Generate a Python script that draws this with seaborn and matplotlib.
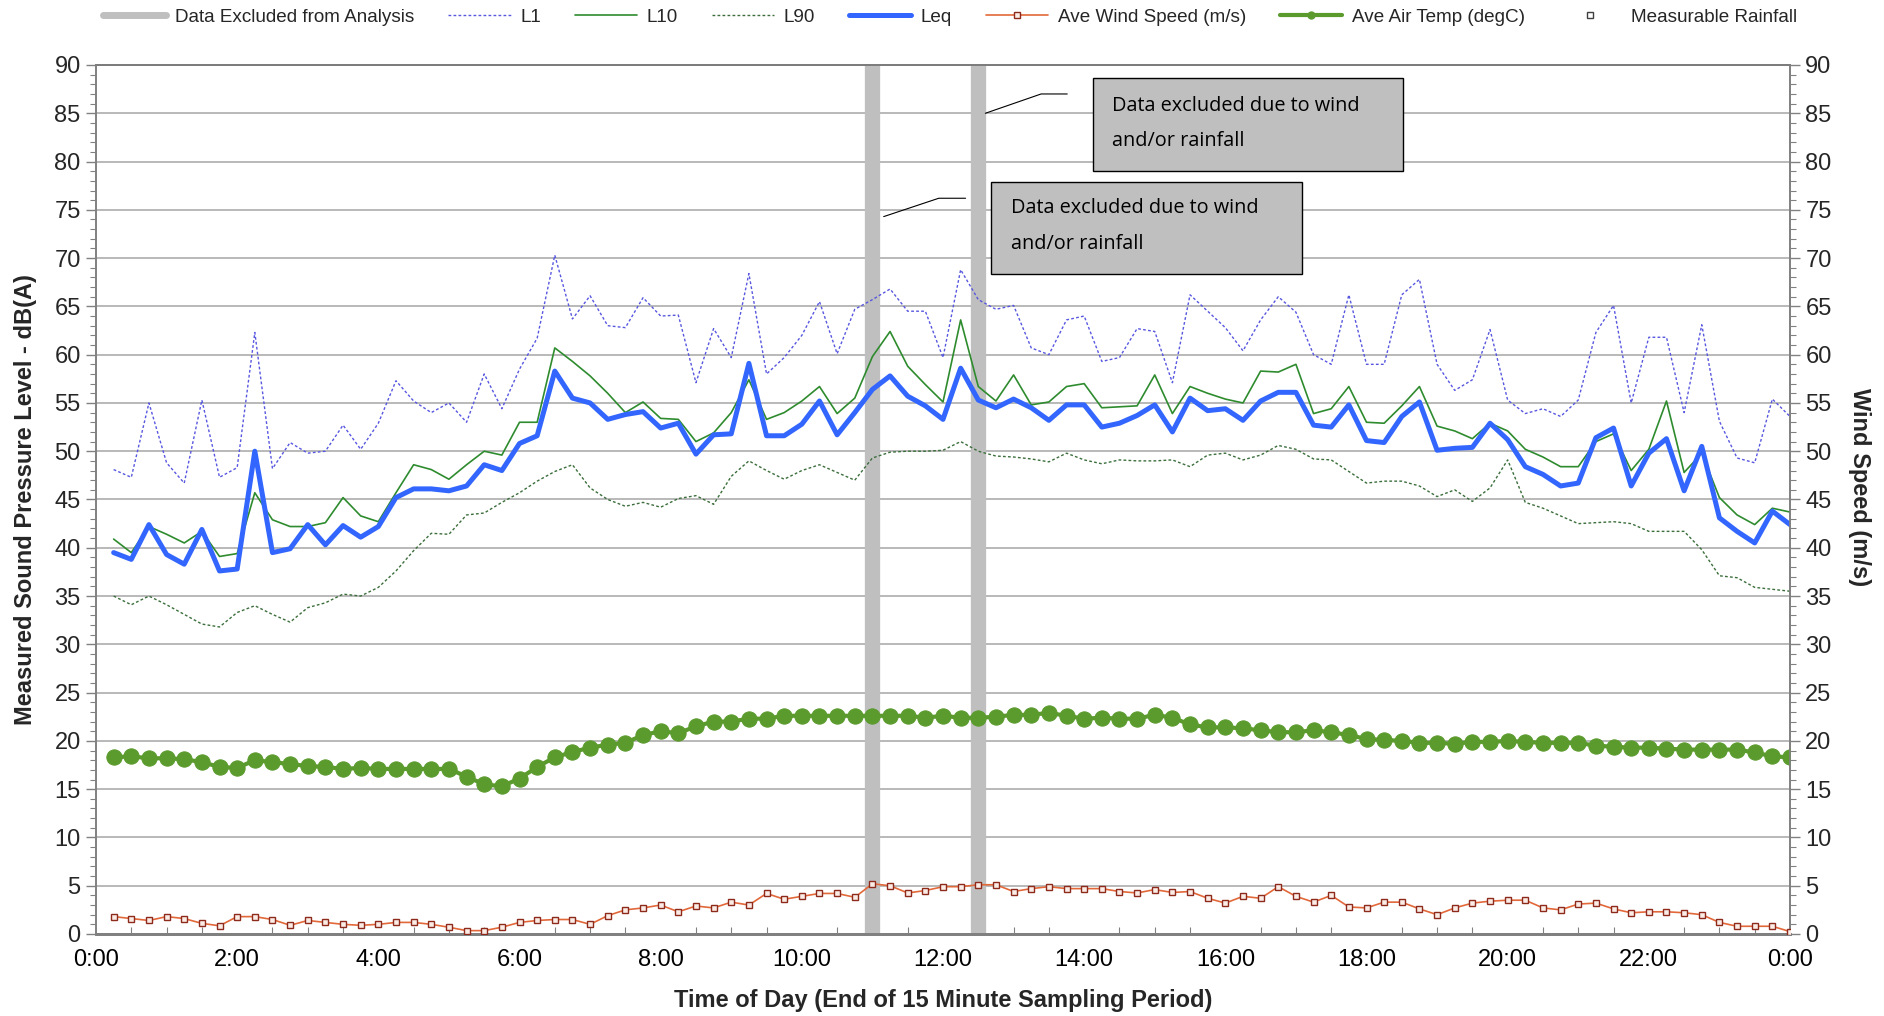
import numpy as np
import pandas as pd
import matplotlib
matplotlib.use("Agg")
import matplotlib.pyplot as plt
import seaborn as sns
from matplotlib.lines import Line2D
from matplotlib.patches import Rectangle
from matplotlib.ticker import MultipleLocator

# ---------------- data ----------------
hours = np.arange(1, 97) * 0.25  # end of each 15-min sampling period (0:15 ... 24:00)

l1 = [48.1, 47.3, 55.0, 48.8, 46.7, 55.3, 47.3, 48.3, 62.3, 48.2, 50.9, 49.8,
      50.0, 52.7, 50.2, 52.9, 57.3, 55.2, 54.0, 55.0, 53.0, 58.0, 54.4, 58.5,
      61.7, 70.3, 63.7, 66.1, 63.0, 62.8, 65.9, 64.0, 64.1, 57.1, 62.7, 59.7,
      68.4, 58.0, 59.7, 62.0, 65.5, 60.1, 64.7, 65.7, 66.8, 64.5, 64.5, 59.7,
      68.8, 65.7, 64.7, 65.1, 60.7, 60.0, 63.6, 64.0, 59.3, 59.7, 62.7, 62.4,
      57.1, 66.2, 64.5, 62.8, 60.4, 63.6, 66.0, 64.4, 60.0, 59.0, 66.2, 59.0,
      59.0, 66.2, 67.8, 59.0, 56.3, 57.4, 62.6, 55.3, 53.9, 54.4, 53.6, 55.3,
      62.3, 65.1, 55.0, 61.8, 61.8, 54.0, 63.1, 53.1, 49.3, 48.8, 55.4, 53.6]

l10 = [40.9, 39.5, 42.2, 41.4, 40.5, 41.7, 39.1, 39.4, 45.7, 42.9, 42.2, 42.2,
       42.6, 45.2, 43.3, 42.7, 45.7, 48.6, 48.1, 47.1, 48.6, 50.0, 49.6, 53.0,
       53.0, 60.7, 59.3, 57.8, 56.0, 54.0, 55.1, 53.4, 53.3, 51.0, 51.9, 54.0,
       57.4, 53.3, 54.0, 55.2, 56.7, 53.9, 55.5, 59.8, 62.4, 58.8, 56.9, 55.1,
       63.6, 56.7, 55.2, 57.9, 54.8, 55.1, 56.7, 57.0, 54.5, 54.6, 54.7, 57.9,
       53.9, 56.7, 56.0, 55.4, 55.0, 58.3, 58.2, 59.0, 53.9, 54.4, 56.7, 53.0,
       52.9, 54.7, 56.7, 52.6, 52.1, 51.3, 52.9, 52.1, 50.2, 49.4, 48.4, 48.4,
       51.0, 51.8, 48.0, 50.2, 55.2, 47.8, 49.8, 45.2, 43.4, 42.4, 44.1, 43.7]

l90 = [35.0, 34.1, 35.0, 34.1, 33.1, 32.1, 31.8, 33.3, 34.0, 33.1, 32.3, 33.8,
       34.3, 35.2, 35.0, 35.9, 37.6, 39.7, 41.5, 41.4, 43.4, 43.6, 44.7, 45.7,
       46.9, 47.9, 48.6, 46.2, 45.0, 44.3, 44.7, 44.2, 45.1, 45.4, 44.5, 47.4,
       49.0, 48.0, 47.1, 48.0, 48.6, 47.8, 47.0, 49.3, 49.9, 50.0, 50.0, 50.1,
       51.0, 50.0, 49.5, 49.4, 49.2, 48.9, 49.8, 49.1, 48.7, 49.1, 49.0, 49.0,
       49.1, 48.4, 49.6, 49.8, 49.1, 49.6, 50.6, 50.2, 49.2, 49.1, 47.9, 46.7,
       46.9, 46.9, 46.4, 45.3, 46.0, 44.8, 46.2, 49.1, 44.7, 44.1, 43.3, 42.5,
       42.6, 42.7, 42.5, 41.7, 41.7, 41.7, 39.8, 37.1, 36.9, 35.9, 35.7, 35.5]

leq = [39.5, 38.8, 42.4, 39.3, 38.3, 41.9, 37.6, 37.8, 50.0, 39.5, 39.9, 42.4,
       40.3, 42.3, 41.1, 42.2, 45.2, 46.1, 46.1, 45.9, 46.4, 48.6, 48.0, 50.8,
       51.6, 58.3, 55.5, 55.0, 53.3, 53.8, 54.1, 52.4, 52.9, 49.7, 51.7, 51.8,
       59.1, 51.6, 51.6, 52.8, 55.2, 51.7, 54.0, 56.4, 57.8, 55.7, 54.7, 53.3,
       58.6, 55.3, 54.5, 55.4, 54.5, 53.2, 54.8, 54.8, 52.5, 52.9, 53.7, 54.8,
       52.0, 55.5, 54.2, 54.4, 53.2, 55.2, 56.1, 56.1, 52.7, 52.5, 54.8, 51.1,
       50.9, 53.6, 55.1, 50.1, 50.3, 50.4, 52.9, 51.2, 48.4, 47.6, 46.4, 46.7,
       51.4, 52.4, 46.4, 49.8, 51.3, 45.9, 50.5, 43.1, 41.7, 40.5, 43.8, 42.4]

wind = [1.8, 1.6, 1.4, 1.8, 1.6, 1.1, 0.85, 1.8, 1.8, 1.5, 0.9, 1.4,
        1.2, 1.0, 0.9, 1.0, 1.2, 1.2, 1.0, 0.7, 0.35, 0.35, 0.7, 1.2,
        1.4, 1.5, 1.5, 1.0, 1.9, 2.5, 2.7, 3.0, 2.3, 2.9, 2.7, 3.3,
        3.0, 4.2, 3.6, 3.9, 4.2, 4.2, 3.8, 5.2, 5.0, 4.25, 4.5, 4.9,
        4.9, 5.1, 5.1, 4.4, 4.7, 4.9, 4.7, 4.7, 4.7, 4.4, 4.25, 4.6,
        4.3, 4.4, 3.7, 3.2, 3.9, 3.7, 4.9, 3.9, 3.3, 4.0, 2.8, 2.7,
        3.3, 3.3, 2.6, 2.0, 2.7, 3.2, 3.4, 3.5, 3.5, 2.7, 2.5, 3.1,
        3.2, 2.6, 2.2, 2.3, 2.3, 2.2, 2.0, 1.2, 0.8, 0.8, 0.8, 0.25]

temp = [18.3, 18.4, 18.2, 18.2, 18.1, 17.8, 17.3, 17.2, 18.0, 17.8, 17.6, 17.4,
        17.3, 17.1, 17.2, 17.1, 17.1, 17.1, 17.1, 17.1, 16.3, 15.5, 15.3, 16.1,
        17.3, 18.3, 18.85, 19.3, 19.6, 19.8, 20.6, 21.0, 20.8, 21.5, 22.0, 22.0,
        22.3, 22.3, 22.6, 22.6, 22.6, 22.6, 22.6, 22.6, 22.6, 22.6, 22.4, 22.6,
        22.4, 22.4, 22.5, 22.7, 22.7, 22.9, 22.6, 22.3, 22.4, 22.3, 22.3, 22.7,
        22.4, 21.7, 21.4, 21.4, 21.3, 21.1, 20.9, 20.9, 21.1, 20.9, 20.6, 20.2,
        20.1, 20.0, 19.8, 19.8, 19.7, 19.9, 19.9, 20.0, 19.9, 19.8, 19.8, 19.8,
        19.5, 19.4, 19.3, 19.3, 19.2, 19.1, 19.1, 19.1, 19.1, 18.8, 18.4, 18.3]

rainfall_hours = []   # no measurable rainfall recorded
rainfall_values = []

excluded_hours = [11.0, 12.5]

xtick_hours = list(range(0, 25, 2))
xtick_labels = ["0:00", "2:00", "4:00", "6:00", "8:00", "10:00", "12:00",
                "14:00", "16:00", "18:00", "20:00", "22:00", "0:00"]
ytick_values = list(range(0, 91, 5))

annotation_text = "Data excluded due to wind\nand/or rainfall"

# ---------------- style ----------------
sns.set_theme(style="white")
narrow = ["Liberation Sans Narrow", "Liberation Sans", "DejaVu Sans"]
plt.rcParams["font.family"] = narrow

df = pd.DataFrame({"hour": hours, "L1": l1, "L10": l10, "L90": l90, "Leq": leq,
                   "wind": wind, "temp": temp})

W, H = 1884, 1016
fig = plt.figure(figsize=(W / 100, H / 100), dpi=100)
ax = fig.add_axes([96 / W, 1 - 934 / H, 1694 / W, 869 / H])
ax2 = ax.twinx()

ax.set_xlim(0, 24)
ax.set_ylim(0, 90)
ax2.set_ylim(0, 90)

# grid
ax.set_axisbelow(True)
ax.yaxis.grid(True, color="#A6A6A6", lw=1.1)
ax.xaxis.grid(False)

# excluded data bands
ax.vlines(excluded_hours, 0, 90, color="#BFBFBF", lw=11, zorder=1.5)

c_l1 = "#5757E0"
c_l10 = "#2E8B2E"
c_l90 = "#3B6E3B"
c_leq = "#3366FF"
c_wind_line = "#E2683A"
c_wind_edge = "#8E2A1C"
c_temp = "#5B9B2E"

sns.lineplot(data=df, x="hour", y="L1", ax=ax, color=c_l1, lw=1.0,
             linestyle=(0, (2.0, 1.6)), zorder=3)
sns.lineplot(data=df, x="hour", y="L10", ax=ax, color=c_l10, lw=1.2, zorder=3)
sns.lineplot(data=df, x="hour", y="L90", ax=ax, color=c_l90, lw=1.0,
             linestyle=(0, (2.0, 1.6)), zorder=3)
sns.lineplot(data=df, x="hour", y="Leq", ax=ax, color=c_leq, lw=3.6, zorder=4)
sns.lineplot(data=df, x="hour", y="temp", ax=ax, color=c_temp, lw=3,
             marker="o", markersize=11, markeredgecolor=c_temp,
             markerfacecolor=c_temp, zorder=4)
sns.lineplot(data=df, x="hour", y="wind", ax=ax2, color=c_wind_line, lw=1.2,
             marker="s", markersize=4.5, markeredgecolor=c_wind_edge,
             markerfacecolor="#FBEDE6", markeredgewidth=1.0, zorder=4)
ax2.plot(rainfall_hours, rainfall_values, ls="none", marker="s", markersize=5,
         markerfacecolor="white", markeredgecolor="#404040")

ax.set_xlabel("")
ax.set_ylabel("")
ax2.set_ylabel("")

# ticks
ax.set_xticks(xtick_hours)
ax.set_xticklabels(xtick_labels)
ax.xaxis.set_minor_locator(MultipleLocator(0.5))
ax.set_yticks(ytick_values)
ax.yaxis.set_minor_locator(MultipleLocator(1))
ax2.set_yticks(ytick_values)
ax2.yaxis.set_minor_locator(MultipleLocator(1))

tick_fs = 17
ax.tick_params(axis="x", which="major", direction="inout", length=10, width=1,
               color="#808080", labelsize=tick_fs, pad=6, labelcolor="black")
ax.tick_params(axis="x", which="minor", direction="in", length=5, width=0.8,
               color="#808080", bottom=True)
ax.tick_params(axis="y", which="major", direction="out", length=7, width=1,
               color="#808080", labelsize=tick_fs, pad=4, left=True)
ax.tick_params(axis="y", which="minor", direction="out", length=4, width=0.8,
               color="#808080", left=True)
ax2.tick_params(axis="y", which="major", direction="out", length=7, width=1,
                color="#808080", labelsize=tick_fs, pad=4, right=True)
ax2.tick_params(axis="y", which="minor", direction="out", length=4, width=0.8,
                color="#808080", right=True)

for a in (ax, ax2):
    for s in a.spines.values():
        s.set_color("#808080")
        s.set_linewidth(1.2)
    a.spines["bottom"].set_linewidth(2)
ax.spines["top"].set_color("#595959")

# annotation boxes
ann_font = ["Open Sans", "Noto Sans", "DejaVu Sans"]
boxes = [
    # (x0, y0, x1, y1, text_x, text_y, leader points)
    (14.12, 79.0, 18.52, 88.65, 14.40, 83.95,
     [(12.60, 85.0), (13.39, 87.0), (13.76, 87.0)]),
    (12.68, 68.35, 17.09, 77.9, 12.97, 73.3,
     [(11.16, 74.3), (11.94, 76.2), (12.32, 76.2)]),
]
for x0, y0, x1, y1, tx, ty, pts in boxes:
    ax.add_patch(Rectangle((x0, y0), x1 - x0, y1 - y0, facecolor="#BFBFBF",
                           edgecolor="black", lw=1.0, zorder=6))
    ax.text(tx, ty, annotation_text, ha="left", va="center", fontsize=14.3,
            family=ann_font, linespacing=2.05, zorder=7, color="black")
    px, py = zip(*pts)
    ax.plot(px, py, color="black", lw=0.8, zorder=6)

# axis titles
title_fs = 17
fig.text(26 / W, 1 - 500 / H, "Measured Sound Pressure Level - dB(A)",
         rotation=90, ha="center", va="center", fontsize=title_fs,
         fontweight="bold")
fig.text(1860 / W, 1 - 487 / H, "Wind Speed (m/s)", rotation=270,
         ha="center", va="center", fontsize=title_fs, fontweight="bold")
fig.text(943 / W, 1 - 1001 / H, "Time of Day (End of 15 Minute Sampling Period)",
         ha="center", va="center", fontsize=title_fs, fontweight="bold")

# legend
for a in (ax, ax2):
    if a.get_legend() is not None:
        a.get_legend().remove()
handles = [
    Line2D([], [], color="#BFBFBF", lw=5),
    Line2D([], [], color=c_l1, lw=1.0, ls=(0, (2.0, 1.6))),
    Line2D([], [], color=c_l10, lw=1.2),
    Line2D([], [], color=c_l90, lw=1.0, ls=(0, (2.0, 1.6))),
    Line2D([], [], color=c_leq, lw=3.6),
    Line2D([], [], color=c_wind_line, lw=1.2, marker="s", markersize=4.5,
           markeredgecolor=c_wind_edge, markerfacecolor="#FBEDE6"),
    Line2D([], [], color=c_temp, lw=3, marker="o", markersize=5,
           markeredgecolor=c_temp, markerfacecolor=c_temp),
    Line2D([], [], ls="none", marker="s", markersize=5,
           markerfacecolor="white", markeredgecolor="#404040"),
]
labels = ["Data Excluded from Analysis", "L1", "L10", "L90", "Leq",
          "Ave Wind Speed (m/s)", "Ave Air Temp (degC)", "Measurable Rainfall"]
fig.legend(handles, labels, loc="center", bbox_to_anchor=(950 / W, 1 - 17 / H),
           ncol=8, frameon=False, fontsize=13.6, handlelength=3.3,
           handletextpad=0.5, columnspacing=1.8)

fig.savefig("out.png", dpi=100)
